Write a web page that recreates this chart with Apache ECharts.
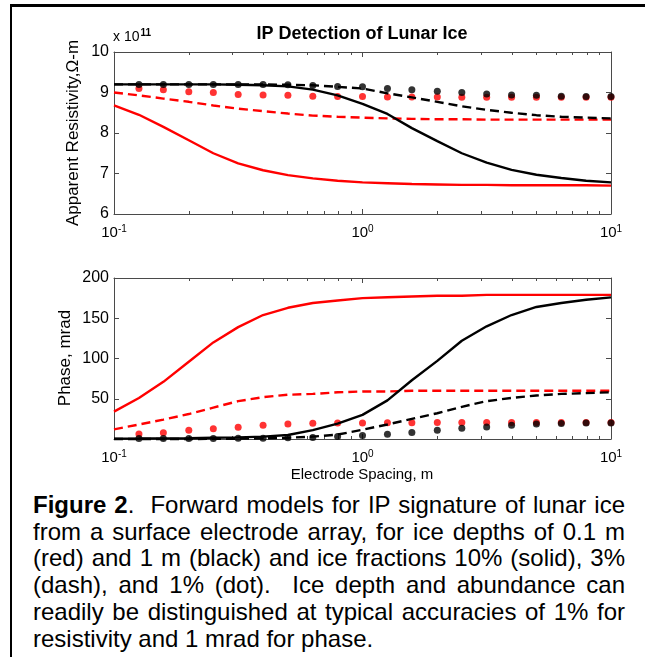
<!DOCTYPE html>
<html>
<head>
<meta charset="utf-8">
<title>IP Detection of Lunar Ice</title>
<script src="https://cdn.jsdelivr.net/npm/echarts@6/dist/echarts.min.js"></script>
<style>
    html, body { margin: 0; padding: 0; background: #fff; }
    #wrap { position: relative; width: 645px; height: 657px; overflow: hidden; }
    #frame {
        position: absolute; left: 10px; top: 4px; width: 640px; height: 660px;
        border-top: 3px solid #000; border-left: 2px solid #000;
    }
    #chart { position: absolute; left: 0; top: 0; width: 645px; height: 490px; }
    #caption {
        position: absolute; left: 33px; top: 492px; width: 592px;
        font-family: 'Liberation Sans', Arial, sans-serif; font-size: 24px;
        line-height: 26.7px; color: #000;
    }
    #caption .j { text-align: justify; text-align-last: justify; }
</style>
</head>
<body>
<div id="wrap">
    <div id="frame"></div>
    <div id="chart"></div>
    <div id="caption">
        <div class="j"><b>Figure 2</b>.&nbsp; Forward models for IP signature of lunar ice</div>
        <div class="j">from a surface electrode array, for ice depths of 0.1 m</div>
        <div class="j">(red) and 1 m (black) and ice fractions 10% (solid), 3%</div>
        <div class="j">(dash), and 1% (dot).&nbsp; Ice depth and abundance can</div>
        <div class="j">readily be distinguished at typical accuracies of 1% for</div>
        <div>resistivity and 1 mrad for phase.</div>
    </div>
</div>
<script>
    // electrode spacing, m (0.1 decade steps)
    const spacing = [0.1, 0.126, 0.158, 0.2, 0.251, 0.316, 0.398, 0.501, 0.631, 0.794,
                     1, 1.26, 1.58, 2, 2.51, 3.16, 3.98, 5.01, 6.31, 7.94, 10];

    // apparent resistivity, x 10^11 ohm-m
    const resRedSolid   = [8.68, 8.45, 8.15, 7.82, 7.5, 7.25, 7.08, 6.96, 6.88, 6.82, 6.78,
                           6.76, 6.74, 6.73, 6.72, 6.72, 6.71, 6.71, 6.71, 6.71, 6.7];
    const resRedDash    = [9.0, 8.93, 8.85, 8.77, 8.68, 8.6, 8.54, 8.48, 8.43, 8.4, 8.38,
                           8.36, 8.35, 8.34, 8.34, 8.33, 8.33, 8.33, 8.33, 8.33, 8.33];
    const resRedDot     = [null, 9.1, 9.07, 9.02, 9.0, 8.95, 8.94, 8.93, 8.91, 8.9, 8.9,
                           8.89, 8.89, 8.89, 8.88, 8.88, 8.88, 8.88, 8.88, 8.88, 8.88];
    const resBlackSolid = [9.2, 9.2, 9.2, 9.2, 9.2, 9.19, 9.18, 9.15, 9.07, 8.93, 8.72,
                           8.47, 8.12, 7.8, 7.5, 7.27, 7.09, 6.97, 6.89, 6.82, 6.78];
    const resBlackDash  = [9.2, 9.2, 9.2, 9.2, 9.2, 9.2, 9.2, 9.19, 9.18, 9.14, 9.1,
                           8.98, 8.88, 8.77, 8.66, 8.57, 8.5, 8.44, 8.4, 8.38, 8.36];
    const resBlackDot   = [null, 9.2, 9.2, 9.2, 9.2, 9.2, 9.2, 9.19, 9.17, 9.15, 9.14,
                           9.1, 9.07, 9.03, 9.0, 8.96, 8.94, 8.93, 8.91, 8.9, 8.9];

    // phase, mrad
    const phRedSolid   = [34, 51, 71, 96, 120, 139, 154, 163, 169, 172, 175,
                          176, 177, 178, 178, 179, 179, 179, 179, 179, 179];
    const phRedDash    = [12, 18, 24, 31, 39, 47, 52, 55, 56, 58, 59,
                          59, 60, 60, 60, 60, 60, 60, 60, 60, 60];
    const phRedDot     = [null, 6.2, 7.8, 10.8, 12.8, 14.5, 17, 18.5, 19.5, 20, 20,
                          20.2, 20.3, 20.4, 20.5, 20.5, 20.5, 20.5, 20.5, 20.5, 20.5];
    const phBlackSolid = [0.5, 0.6, 0.8, 1, 1.5, 2, 3, 5, 11, 19, 30,
                          48, 73, 97, 122, 140, 154, 164, 169, 173, 176];
    const phBlackDash  = [0, 0, 0, 0, 0.2, 0.4, 0.8, 1.5, 3, 5.5, 11.5,
                          18, 25, 32, 40, 47, 51, 54, 56, 57, 58];
    const phBlackDot   = [null, 0.5, 0.5, 0.5, 0.6, 0.8, 1, 1.5, 2, 3, 4.5,
                          6, 8, 11, 13.5, 15, 17, 18.5, 19.4, 20, 20];

    const majorTicks = [1];
    const minorTicks = [0.2, 0.3, 0.4, 0.5, 0.6, 0.7, 0.8, 0.9, 2, 3, 4, 5, 6, 7, 8, 9];
    const xLabels = [0.1, 1, 10];

    const FONT = "'Liberation Sans', Arial, sans-serif";
    const AXIS_COLOR = '#4a4a4a';

    function pairs(values) {
        return values.map(function (v, i) { return v === null ? null : [spacing[i], v]; })
                     .filter(function (p) { return p !== null; });
    }

    // four x axes per grid: bottom/top, major/minor ticks
    function xAxesFor(grid) {
        const list = [];
        ['bottom', 'top'].forEach(function (pos) {
            [majorTicks, minorTicks].forEach(function (ticks, k) {
                const main = pos === 'bottom' && k === 0;
                list.push({
                    gridIndex: grid, type: 'log', logBase: 10, min: 0.1, max: 10, position: pos,
                    axisLine: { show: k === 0, lineStyle: { color: AXIS_COLOR, width: 1 } },
                    axisTick: { show: true, inside: true, length: k === 0 ? 5 : 3, customValues: ticks,
                                lineStyle: { color: AXIS_COLOR } },
                    axisLabel: main ? {
                        show: true, customValues: xLabels, margin: 10, color: '#000',
                        fontFamily: FONT,
                        formatter: function (v) {
                            return '{b|10}{s|' + Math.round(Math.log10(v)) + '}';
                        },
                        rich: {
                            b: { fontSize: 15, fontFamily: FONT, color: '#000', lineHeight: 17 },
                            s: { fontSize: 10, fontFamily: FONT, color: '#000', verticalAlign: 'top',
                                 lineHeight: 17, padding: [0, 0, 7, 0] }
                        }
                    } : { show: false },
                    splitLine: { show: false }
                });
            });
        });
        return list;
    }

    function yAxesFor(grid, min, max, interval) {
        return ['left', 'right'].map(function (pos) {
            return {
                gridIndex: grid, type: 'value', min: min, max: max, interval: interval, position: pos,
                axisLine: { show: true, lineStyle: { color: AXIS_COLOR, width: 1 } },
                axisTick: { show: true, inside: true, length: 5, lineStyle: { color: AXIS_COLOR } },
                axisLabel: pos === 'left' ? {
                    show: true, margin: 5, color: '#000', fontSize: 16, fontFamily: FONT,
                    formatter: function (v) { return v === 0 ? '' : String(v); }
                } : { show: false },
                splitLine: { show: false }
            };
        });
    }

    function lineSeries(data, color, dashed, xi, yi) {
        return {
            type: 'line', data: pairs(data), xAxisIndex: xi, yAxisIndex: yi,
            showSymbol: false, clip: false, animation: false,
            lineStyle: { color: color, width: 2.4, type: dashed ? [9, 5] : 'solid' }
        };
    }

    function dotSeries(data, color, xi, yi) {
        return {
            type: 'scatter', data: pairs(data), xAxisIndex: xi, yAxisIndex: yi,
            symbol: 'circle', symbolSize: 7, clip: false, animation: false,
            itemStyle: { color: color }
        };
    }

    const chart = echarts.init(document.getElementById('chart'), null, { renderer: 'canvas' });

    const option = {
        backgroundColor: 'transparent',
        animation: false,
        grid: [
            { left: 114, top: 52, width: 497, height: 162 },
            { left: 114, top: 278, width: 497, height: 161 }
        ],
        xAxis: xAxesFor(0).concat(xAxesFor(1)),
        yAxis: yAxesFor(0, 6, 10, 1).concat(yAxesFor(1, 0, 200, 50)),
        series: [
            lineSeries(resRedSolid, '#ff0000', false, 0, 0),
            lineSeries(resRedDash, '#ff0000', true, 0, 0),
            dotSeries(resRedDot, '#ff0000', 0, 0),
            lineSeries(resBlackSolid, '#000000', false, 0, 0),
            lineSeries(resBlackDash, '#000000', true, 0, 0),
            dotSeries(resBlackDot, '#000000', 0, 0),

            lineSeries(phRedSolid, '#ff0000', false, 4, 2),
            lineSeries(phRedDash, '#ff0000', true, 4, 2),
            dotSeries(phRedDot, '#ff0000', 4, 2),
            lineSeries(phBlackSolid, '#000000', false, 4, 2),
            lineSeries(phBlackDash, '#000000', true, 4, 2),
            dotSeries(phBlackDot, '#000000', 4, 2)
        ],
        graphic: [
            {
                type: 'text', x: 362, y: 34, z: 10,
                style: { text: 'IP Detection of Lunar Ice', font: 'bold 18px ' + FONT, fill: '#000',
                         align: 'center', verticalAlign: 'middle' }
            },
            {
                type: 'text', x: 113, y: 28,
                style: {
                    text: '{a|x 10}{s|11}', fill: '#000',
                    rich: {
                        a: { fontSize: 14, fontFamily: FONT, lineHeight: 18 },
                        s: { fontSize: 10, fontFamily: FONT, fontWeight: 'bold', verticalAlign: 'top',
                             lineHeight: 18, padding: [0, 0, 6, 1] }
                    }
                }
            },
            {
                type: 'text', x: 73, y: 133, rotation: Math.PI / 2,
                style: { text: 'Apparent Resistivity,\u03a9-m', font: '17px ' + FONT, fill: '#000',
                         align: 'center', verticalAlign: 'middle' }
            },
            {
                type: 'text', x: 65, y: 358, rotation: Math.PI / 2,
                style: { text: 'Phase, mrad', font: '17px ' + FONT, fill: '#000',
                         align: 'center', verticalAlign: 'middle' }
            },
            {
                type: 'text', x: 362, y: 475,
                style: { text: 'Electrode Spacing, m', font: '15px ' + FONT, fill: '#000',
                         align: 'center', verticalAlign: 'middle' }
            }
        ]
    };

    chart.setOption(option);
</script>
</body>
</html>
